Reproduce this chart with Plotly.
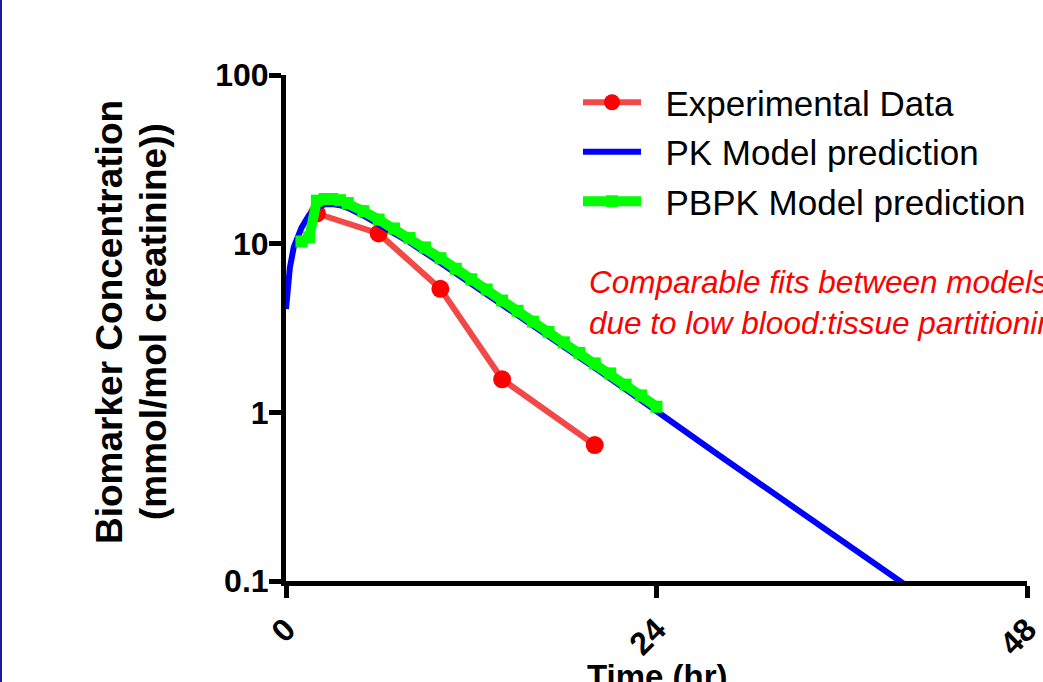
import plotly.graph_objects as go

# Experimental data
exp_t = [2, 6, 10, 14, 20]
exp_c = [15.1, 11.5, 5.4, 1.57, 0.64]

# PK model prediction
pk_t = [0, 0.25, 0.5, 0.75, 1, 1.5, 2, 2.5, 3, 3.5, 4, 5, 6, 7, 8, 10, 12, 14, 16, 18,
        20, 22, 24, 26, 28, 30, 32, 34, 36, 38, 40, 42]
pk_c = [4.1, 7.2, 9.5, 11.0, 12.4, 14.8, 16.4, 17.1, 17.2, 16.9, 16.3, 14.7, 13.1, 11.6,
        10.2, 7.7, 5.8, 4.35, 3.25, 2.45, 1.84, 1.37, 1.01, 0.75, 0.56, 0.418, 0.311, 0.232,
        0.173, 0.129, 0.096, 0.072]

# PBPK model prediction
pbpk_t = [1, 1.5, 2, 2.5, 3, 3.5, 4, 5, 6, 7, 8, 9, 10, 11, 12, 13, 14, 15, 16, 17, 18,
          19, 20, 21, 22, 23, 24]
pbpk_c = [10.3, 10.9, 18.0, 18.4, 18.4, 18.1, 17.4, 15.6, 13.9, 12.3, 10.8, 9.5, 8.2, 7.1,
          6.15, 5.35, 4.6, 4.0, 3.45, 3.0, 2.6, 2.25, 1.95, 1.7, 1.46, 1.26, 1.08]

x_ticks = [0, 24, 48]
y_ticks = [0.1, 1, 10, 100]
y_tick_labels = ["0.1", "1", "10", "100"]

FONT = "Liberation Sans, Arial, sans-serif"
NB = "\u00a0\u00a0"

fig = go.Figure()
fig.add_trace(go.Scatter(
    x=exp_t, y=exp_c, mode="lines+markers", name=NB + "Experimental Data",
    legendgroup="a",
    line=dict(color="#f24848", width=6),
    marker=dict(color="#ff0000", size=18, symbol="circle"),
))
fig.add_trace(go.Scatter(
    x=pk_t, y=pk_c, mode="lines", name=NB + "PK Model prediction",
    legendgroup="b",
    line=dict(color="#0000ff", width=6),
))
fig.add_trace(go.Scatter(
    x=pbpk_t, y=pbpk_c, mode="lines+markers", name=NB + "PBPK Model prediction",
    legendgroup="c",
    line=dict(color="#00ff00", width=10),
    marker=dict(color="#00ff00", size=12, symbol="square"),
))

L, R, T, B = 286, 16, 75, 101
W, H = 1043, 682
pw = W - L - R
ph = H - T - B

fig.update_layout(
    width=W, height=H,
    margin=dict(l=L, r=R, t=T, b=B, autoexpand=False),
    paper_bgcolor="white", plot_bgcolor="white",
    font=dict(family=FONT, color="black"),
    showlegend=True,
    legend=dict(
        x=(578 - L) / pw, y=(581 - 73) / ph, xanchor="left", yanchor="top",
        font=dict(size=35, family=FONT, color="black"),
        bgcolor="rgba(0,0,0,0)", itemwidth=58, tracegroupgap=1,
        traceorder="grouped",
    ),
    xaxis=dict(
        range=[0, 48], tickvals=x_ticks, ticktext=[str(v) for v in x_ticks],
        tickangle=-45, showgrid=False, zeroline=False,
        showline=True, linecolor="black", linewidth=5,
        ticks="outside", ticklen=12, tickwidth=5, tickcolor="black",
        tickfont=dict(size=32, family=FONT, weight="bold"),
        ticklabeloverflow="allow",
    ),
    yaxis=dict(
        type="log", range=[-1, 2], tickvals=y_ticks, ticktext=y_tick_labels,
        showgrid=False, zeroline=False,
        showline=True, linecolor="black", linewidth=5,
        ticks="outside", ticklen=12, tickwidth=5, tickcolor="black",
        tickfont=dict(size=32, family=FONT, weight="bold"),
        ticklabelstandoff=-6,
    ),
)

# Y axis title (two lines, tight spacing)
fig.add_annotation(
    text="Biomarker Concentration",
    xref="paper", yref="paper", x=(109 - L) / pw, y=(581 - 322) / ph,
    xanchor="center", yanchor="middle", textangle=-90, showarrow=False,
    font=dict(size=37, family=FONT, weight="bold", color="black"),
)
fig.add_annotation(
    text="(mmol/mol creatinine))",
    xref="paper", yref="paper", x=(153 - L) / pw, y=(581 - 322) / ph,
    xanchor="center", yanchor="middle", textangle=-90, showarrow=False,
    font=dict(size=37, family=FONT, weight="bold", color="black"),
)
# X axis title (cut by the bottom edge)
fig.add_annotation(
    text="Time (hr)",
    xref="paper", yref="paper", x=(657 - L) / pw, y=-(656 - 581) / ph,
    xanchor="center", yanchor="top", showarrow=False,
    font=dict(size=33, family=FONT, weight="bold", color="black"),
)
# Red note
fig.add_annotation(
    text="Comparable fits between models<br>due to low blood:tissue partitioning",
    xref="paper", yref="paper", x=(587 - L) / pw, y=(581 - 302) / ph,
    xanchor="left", yanchor="middle", align="left", showarrow=False,
    font=dict(size=31.5, family=FONT, style="italic", color="#ff0000"),
)
# Slide border on the left
fig.add_shape(
    type="line", xref="paper", yref="paper",
    x0=(1 - L) / pw, x1=(1 - L) / pw, y0=-B / ph, y1=(ph + T) / ph,
    line=dict(color="#1a1a9a", width=2),
)

fig.write_html(
    "out.html",
    config={"displayModeBar": False},
    post_script="document.body.style.margin='0px';document.body.style.overflow='hidden';",
)
